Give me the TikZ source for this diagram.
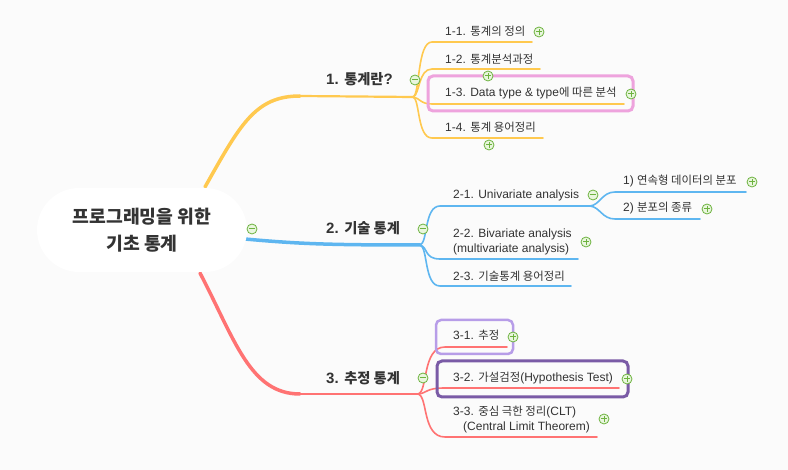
\documentclass[tikz,border=0pt]{standalone}
\usepackage{fontspec}
\setmainfont{Liberation Sans}
\newfontfamily\hgfont[Scale=0.95]{Noto Sans CJK KR}
\newcommand\hg[1]{{\hgfont #1}}
\definecolor{bg}{HTML}{FBFBFB}
\definecolor{txt}{HTML}{333333}
\definecolor{yel}{HTML}{FFC94F}
\definecolor{blu}{HTML}{5EB6F0}
\definecolor{rd}{HTML}{FF7373}
\definecolor{icon}{HTML}{6DB33F}
\definecolor{iconfill}{HTML}{E9F6DE}
\definecolor{pinkbox}{HTML}{EEA3DD}
\definecolor{lpur}{HTML}{B79DE8}
\definecolor{dpur}{HTML}{7A5BA6}
\tikzset{
  lbl/.style={anchor=west, inner sep=0pt, text=txt, font=\fontsize{12}{14.5}\selectfont, align=left},
  mainlbl/.style={anchor=west, inner sep=0pt, text=txt, font=\bfseries\fontsize{15}{18}\selectfont},
  plusicon/.style={circle, draw=icon, fill=iconfill, line width=0.8pt, minimum size=10pt, inner sep=0pt,
    path picture={\draw[icon, line width=1pt] ([xshift=-3pt]path picture bounding box.center) -- ([xshift=3pt]path picture bounding box.center);
                  \draw[icon, line width=1pt] ([yshift=-3pt]path picture bounding box.center) -- ([yshift=3pt]path picture bounding box.center);}},
  minusicon/.style={circle, draw=icon, fill=iconfill, line width=0.8pt, minimum size=10pt, inner sep=0pt,
    path picture={\draw[icon, line width=1pt] ([xshift=-3pt]path picture bounding box.center) -- ([xshift=3pt]path picture bounding box.center);}},
  rootline/.style={line width=3.5pt, line cap=round},
  subline/.style={line width=1.6pt, line cap=round},
}
\begin{document}
\begin{tikzpicture}[x=1pt,y=-1pt]
\fill[bg] (0,0) rectangle (788,470);
\useasboundingbox (0,0) rectangle (788,470);

% ---------- branch 1 (yellow) ----------
\coordinate (r1) at (205,187);
\coordinate (b1) at (300,96);
\coordinate (f1) at (413,97);
\draw[yel, rootline] (r1) .. controls (240,125) and (255,96) .. (b1);
\draw[yel, line width=2.2pt] (b1) -- (f1);
\coordinate (u11a) at (432,42); \coordinate (u11b) at (532,42);
\coordinate (u12a) at (432,69); \coordinate (u12b) at (540,69);
\coordinate (u13a) at (432,104); \coordinate (u13b) at (624,104);
\coordinate (u14a) at (432,138); \coordinate (u14b) at (543,138);
\draw[yel, subline] (f1) .. controls (420,95) and (417,42) .. (u11a) -- (u11b);
\draw[yel, subline] (f1) .. controls (420,95) and (418,69) .. (u12a) -- (u12b);
\draw[yel, subline] (f1) .. controls (420,98) and (420,104) .. (u13a) -- (u13b);
\draw[yel, subline] (f1) .. controls (420,99) and (417,138) .. (u14a) -- (u14b);
\node[mainlbl] (n1) at (326,79) {1. \hg{통계란}?};
\node[lbl] (n11) at (445,31) {1-1. \hg{통계의 정의}};
\node[lbl] (n12) at (445,59) {1-2. \hg{통계분석과정}};
\node[lbl] (n13) at (445,93) {1-3. Data type \& type\hg{에 따른 분석}};
\node[lbl] (n14) at (445,127) {1-4. \hg{통계 용어정리}};
\draw[pinkbox, line width=3pt, rounded corners=5pt] (428,76) rectangle (633,111);

% ---------- branch 2 (blue) ----------
\coordinate (r2) at (245,239);
\coordinate (f2) at (420,245);
\draw[blu, rootline] (r2) .. controls (300,244) and (330,245) .. (f2);
\coordinate (u21a) at (440,206); \coordinate (u21b) at (590,206);
\coordinate (u22a) at (440,259); \coordinate (u22b) at (578,259);
\coordinate (u23a) at (440,286); \coordinate (u23b) at (571,286);
\draw[blu, subline] (f2) .. controls (428,243) and (424,206) .. (u21a) -- (u21b);
\draw[blu, subline] (f2) .. controls (428,247) and (424,259) .. (u22a) -- (u22b);
\draw[blu, subline] (f2) .. controls (428,247) and (424,286) .. (u23a) -- (u23b);
\coordinate (u211a) at (615,192); \coordinate (u211b) at (746,192);
\coordinate (u212a) at (615,219); \coordinate (u212b) at (700,219);
\draw[blu, subline] (u21b) .. controls (600,205) and (602,192) .. (u211a) -- (u211b);
\draw[blu, subline] (u21b) .. controls (600,207) and (602,219) .. (u212a) -- (u212b);
\node[mainlbl] (n2) at (326,228) {2. \hg{기술 통계}};
\node[lbl] (n21) at (453,195) {2-1. Univariate analysis};
\node[lbl] (n22) at (453,242) {2-2. Bivariate analysis\\(multivariate analysis)};
\node[lbl] (n23) at (453,276) {2-3. \hg{기술통계 용어정리}};
\node[lbl] (n211) at (623,181) {1) \hg{연속형 데이터의 분포}};
\node[lbl] (n212) at (623,208) {2) \hg{분포의 종류}};

% ---------- branch 3 (red) ----------
\coordinate (r3) at (200,273);
\coordinate (b3) at (300,394);
\coordinate (f3) at (418,394);
\draw[rd, rootline] (r3) .. controls (235,340) and (250,394) .. (b3);
\draw[rd, line width=2.2pt] (b3) -- (f3);
\coordinate (u31a) at (445,347); \coordinate (u31b) at (507,347);
\coordinate (u32a) at (445,388); \coordinate (u32b) at (619,388);
\coordinate (u33a) at (445,437); \coordinate (u33b) at (597,437);
\draw[rd, subline] (f3) .. controls (428,392) and (422,347) .. (u31a) -- (u31b);
\draw[rd, subline] (f3) .. controls (428,393) and (425,388) .. (u32a) -- (u32b);
\draw[rd, subline] (f3) .. controls (428,396) and (422,437) .. (u33a) -- (u33b);
\node[mainlbl] (n3) at (326,378) {3. \hg{추정 통계}};
\node[lbl] (n31) at (453,335) {3-1. \hg{추정}};
\node[lbl] (n32) at (453,378) {3-2. \hg{가설검정}(Hypothesis Test)};
\node[lbl] (n33) at (453,419.5) {3-3. \hg{중심 극한 정리}(CLT)\\\hspace*{10pt}(Central Limit Theorem)};
\draw[lpur, line width=2.5pt, rounded corners=5pt] (436,320) rectangle (513,354);
\draw[dpur, line width=3pt, rounded corners=5pt] (437,361) rectangle (628,397);

% ---------- central node ----------
\node[fill=white, rounded corners=42pt, minimum width=210pt, minimum height=84pt, inner sep=0pt,
      text=txt, font=\bfseries\fontsize{19.2}{27}\selectfont\hgfont, align=center] (root) at (142,230)
      {프로그래밍을 위한\\기초 통계};

% ---------- icons ----------
\node[minusicon] (m0) at (252,229) {};
\node[minusicon] (m1) at (415,80) {};
\node[minusicon] (m2) at (423,229) {};
\node[minusicon] (m21) at (593,195) {};
\node[minusicon] (m3) at (423,378) {};
\node[plusicon] (p11) at (539,32) {};
\node[plusicon] (p12) at (488,76) {};
\node[plusicon] (p13) at (631,94) {};
\node[plusicon] (p14) at (489,145) {};
\node[plusicon] (p211) at (752,182) {};
\node[plusicon] (p212) at (707,209) {};
\node[plusicon] (p22) at (586,242) {};
\node[plusicon] (p31) at (513,337) {};
\node[plusicon] (p32) at (627,379) {};
\node[plusicon] (p33) at (604,419) {};
\end{tikzpicture}
\end{document}
